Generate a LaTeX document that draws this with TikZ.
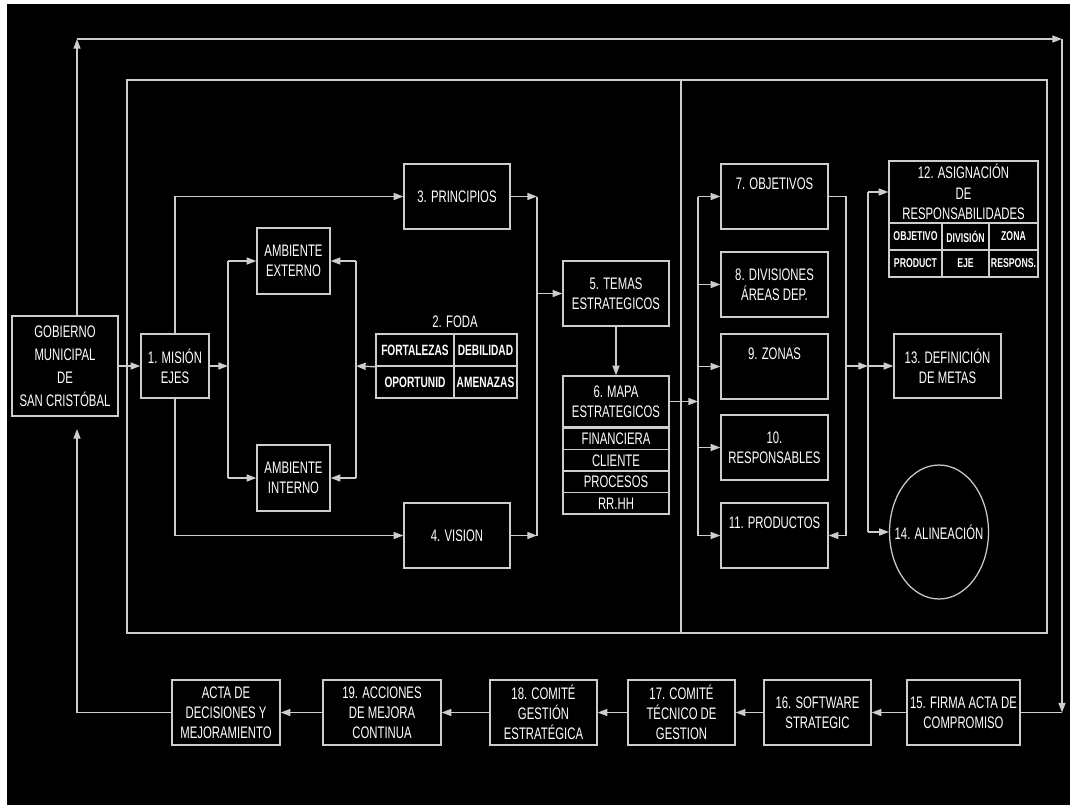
\documentclass[tikz,border=0pt]{standalone}
\usepackage{fontspec}
\newfontfamily\diagfont{Liberation Sans}[FakeStretch=0.68]
\usetikzlibrary{arrows.meta,shapes.geometric}
\definecolor{linegray}{RGB}{205,205,205}

\begin{document}
\begin{tikzpicture}[
    x=0.02cm, y=-0.02cm,
    conn/.style={draw=linegray, line width=0.8pt},
    arrow/.style={conn, -{Triangle[length=5.5pt,width=4pt]}},
    box/.style={draw=linegray, line width=0.8pt, text=white, align=center,
        inner sep=1pt, font=\diagfont\fontsize{9.5}{11.5}\selectfont},
    cell/.style={box, inner sep=0.5pt, font=\diagfont\bfseries\fontsize{8.5}{9}\selectfont},
    smallcell/.style={cell, font=\diagfont\bfseries\fontsize{7.3}{8}\selectfont},
    lbl/.style={text=white, inner sep=0pt, font=\diagfont\fontsize{9.5}{11.5}\selectfont}
]

    % Background (black sheet with a thin white margin top and left)
    \useasboundingbox (0,0) rectangle (1070,805);
    \fill[white] (0,0) rectangle (1070,805);
    \fill[black] (7,4) rectangle (1070,805);

    % Big frame and its divider
    \draw[conn] (127,80) rectangle (1047,633);
    \draw[conn] (681,80) -- (681,633);

    % Corners of the outer loop
    \coordinate (tl) at (77,39);
    \coordinate (tr) at (1062,39);
    \coordinate (br) at (1062,712.5);
    \coordinate (bl) at (77,712.5);

    % Left part
    \node[box, minimum width=2.12cm, minimum height=2cm,
          font=\diagfont\fontsize{9.5}{13}\selectfont] (gob) at (65,366)
          {GOBIERNO\\MUNICIPAL\\DE\\SAN CRISTÓBAL};
    \node[box, minimum width=1.36cm, minimum height=1.28cm] (mision) at (175,366) {1. MISIÓN\\EJES};
    \node[box, minimum width=1.46cm, minimum height=1.32cm] (ext) at (293.5,261) {AMBIENTE\\EXTERNO};
    \node[box, minimum width=1.46cm, minimum height=1.32cm] (int) at (293.5,478) {AMBIENTE\\INTERNO};

    % FODA table
    \node[lbl] (foda) at (455,322) {2. FODA};
    \node[cell, minimum width=1.56cm, minimum height=0.64cm] (fort) at (415,350) {FORTALEZAS};
    \node[cell, minimum width=1.26cm, minimum height=0.64cm] (deb) at (485.5,350) {DEBILIDAD};
    \node[cell, minimum width=1.56cm, minimum height=0.64cm] (opo) at (415,382) {OPORTUNID};
    \node[cell, minimum width=1.26cm, minimum height=0.64cm] (ame) at (485.5,382) {AMENAZAS};

    \node[box, minimum width=2.12cm, minimum height=1.3cm] (prin) at (457,196.5) {3. PRINCIPIOS};
    \node[box, minimum width=2.12cm, minimum height=1.3cm] (vis) at (457,535.5) {4. VISION};
    \node[box, minimum width=2.12cm, minimum height=1.3cm] (temas) at (616,293.5) {5. TEMAS\\ESTRATEGICOS};

    % Strategic map with its four rows
    \node[box, minimum width=2.12cm, minimum height=1.02cm] (mapa) at (616,401.5) {6. MAPA\\ESTRATEGICOS};
    \node[box, minimum width=2.12cm, minimum height=0.43cm] (fin) at (616,438.75) {FINANCIERA};
    \node[box, minimum width=2.12cm, minimum height=0.43cm] (cli) at (616,460.25) {CLIENTE};
    \node[box, minimum width=2.12cm, minimum height=0.43cm] (proc) at (616,481.75) {PROCESOS};
    \node[box, minimum width=2.12cm, minimum height=0.43cm] (rrhh) at (616,503.25) {RR.HH};

    % Right part
    \node[box, minimum width=2.14cm, minimum height=1.3cm] (obj) at (774.5,196.5) {7. OBJETIVOS\\ \strut};
    \node[box, minimum width=2.14cm, minimum height=1.3cm] (div) at (774.5,284.5) {8. DIVISIONES\\ÁREAS DEP.};
    \node[box, minimum width=2.14cm, minimum height=1.3cm] (zon) at (774.5,366.5) {9. ZONAS\\ \strut};
    \node[box, minimum width=2.14cm, minimum height=1.3cm] (resp) at (774.5,447.5) {10.\\RESPONSABLES};
    \node[box, minimum width=2.14cm, minimum height=1.3cm] (prod) at (774.5,535.5) {11. PRODUCTOS\\ \strut};

    \node[box, minimum width=2.98cm, minimum height=1.24cm] (asig) at (963.5,192)
          {12. ASIGNACIÓN\\DE\\RESPONSABILIDADES};
    \node[smallcell, minimum width=1.06cm, minimum height=0.54cm] (cobj) at (915.5,236.5) {OBJETIVO};
    \node[smallcell, minimum width=0.94cm, minimum height=0.54cm] (cdiv) at (965.5,236.5) {DIVISIÓN};
    \node[smallcell, minimum width=0.98cm, minimum height=0.54cm] (czon) at (1013.5,236.5) {ZONA};
    \node[smallcell, minimum width=1.06cm, minimum height=0.54cm] (cpro) at (915.5,263.5) {PRODUCT};
    \node[smallcell, minimum width=0.94cm, minimum height=0.54cm] (ceje) at (965.5,263.5) {EJE};
    \node[smallcell, minimum width=0.98cm, minimum height=0.54cm] (cres) at (1013.5,263.5) {RESPONS.};

    \node[box, minimum width=2.14cm, minimum height=1.28cm] (def) at (947.5,366) {13. DEFINICIÓN\\DE METAS};
    \node[ellipse, draw=linegray, line width=0.7pt, inner sep=0pt,
          minimum width=1.98cm, minimum height=2.68cm] (ali) at (939,532) {};
    \node[lbl] (alitxt) at (ali.center) {14. ALINEACIÓN};

    % Bottom row (from right to left)
    \node[box, minimum width=2.26cm, minimum height=1.3cm] (firma) at (963.5,712.5) {15. FIRMA ACTA DE\\COMPROMISO};
    \node[box, minimum width=2.14cm, minimum height=1.3cm] (soft) at (817.5,712.5) {16. SOFTWARE\\STRATEGIC};
    \node[box, minimum width=2.14cm, minimum height=1.3cm] (tec) at (681.5,712.5) {17. COMITÉ\\TÉCNICO DE\\GESTION};
    \node[box, minimum width=2.14cm, minimum height=1.3cm] (ges) at (543.5,712.5) {18. COMITÉ\\GESTIÓN\\ESTRATÉGICA};
    \node[box, minimum width=2.36cm, minimum height=1.3cm] (acc) at (382,712.5) {19. ACCIONES\\DE MEJORA\\CONTINUA};
    \node[box, minimum width=2.16cm, minimum height=1.3cm] (acta) at (226,712.5) {ACTA DE\\DECISIONES Y\\MEJORAMIENTO};

    % Junction points of the bus lines
    \coordinate (ja) at (228,366);
    \coordinate (jf) at (356,366);
    \coordinate (jp) at (537,196.5);
    \coordinate (jr) at (698,401.5);
    \coordinate (jc) at (846,196.5);
    \coordinate (jd) at (868,366);

    % Outer loop
    \draw[arrow] (gob.north -| tl) -- (tl);
    \draw[arrow] (tl) -- (tr);
    \draw[arrow] (tr) -- (br);
    \draw[conn] (br) -- (firma.east);
    \draw[conn] (acta.west) -- (bl);
    \draw[arrow, shorten >=7pt] (bl) -- (gob.south -| bl);

    % Government to mission
    \draw[arrow] (gob.east) -- (mision.west);
    \draw[arrow] (mision.north) |- (prin.west);
    \draw[arrow] (mision.south) |- (vis.west);

    % Mission to both environments
    \draw[arrow] (mision.east) -- (ja);
    \draw[conn] (ext.west -| ja) -- (int.west -| ja);
    \draw[arrow] (ext.west -| ja) -- (ext.west);
    \draw[arrow] (int.west -| ja) -- (int.west);

    % FODA to both environments
    \draw[arrow] (fort.south west) -- (jf);
    \draw[conn] (ext.east -| jf) -- (int.east -| jf);
    \draw[arrow] (ext.east -| jf) -- (ext.east);
    \draw[arrow] (int.east -| jf) -- (int.east);

    % Principles and vision to strategic themes
    \draw[arrow] (prin.east) -- (jp);
    \draw[arrow] (vis.east) -- (vis.east -| jp);
    \draw[conn] (jp) -- (vis.east -| jp);
    \draw[arrow] (temas.west -| jp) -- (temas.west);
    \draw[arrow] (temas.south) -- (mapa.north);

    % Strategic map to items 7-11
    \draw[arrow] (mapa.east) -- (jr);
    \draw[conn] (obj.west -| jr) -- (prod.west -| jr);
    \foreach \b in {obj,div,zon,resp,prod}
        \draw[arrow] (\b.west -| jr) -- (\b.west);

    % Items back down and over to 12-14
    \draw[arrow] (obj.east) -- (jc) -- (prod.east -| jc) -- (prod.east);
    \draw[arrow] (def.west -| jc) -- (jd);
    \draw[conn] (asig.west -| jd) -- (ali.west -| jd);
    \draw[arrow] (asig.west -| jd) -- (asig.west);
    \draw[arrow] (jd) -- (def.west);
    \draw[arrow] (ali.west -| jd) -- (ali.west);

    % Bottom chain, right to left
    \foreach \a/\b in {firma/soft,soft/tec,tec/ges,ges/acc,acc/acta}
        \draw[arrow] (\a.west) -- (\b.east);

\end{tikzpicture}
\end{document}
